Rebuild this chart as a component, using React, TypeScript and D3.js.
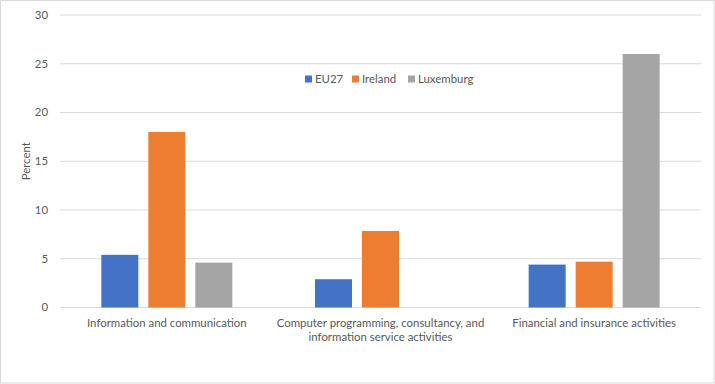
import React from "react";
import * as d3 from "d3";

const categories = [
  ["Information and communication"],
  ["Computer programming, consultancy, and", "information service activities"],
  ["Financial and insurance activities"],
];
const categoryKeys = ["info", "computer", "financial"];
const seriesNames = ["EU27", "Ireland", "Luxemburg"];
const eu27 = [5.4, 2.9, 4.4];
const ireland = [18.0, 7.85, 4.7];
const luxemburg = [4.6, null, 26.0];
const yTicks = [0, 5, 10, 15, 20, 25, 30];
const colors = ["#4472C4", "#ED7D31", "#A5A5A5"];

const W = 715;
const H = 384;
const FONT = "Lato, 'Open Sans', sans-serif";
const FS = 11.4;

export default function App() {
  const left = 60;
  const right = 701;
  const top = 15;
  const bottom = 307.5;
  const y = d3.scaleLinear().domain([0, 30]).range([bottom, top]);
  const x0 = d3.scaleBand<string>().domain(categoryKeys).range([left, right]).padding(0);
  const bw0 = x0.bandwidth();
  const groupW = 131;
  const x1 = d3
    .scaleBand<string>()
    .domain(seriesNames)
    .range([(bw0 - groupW) / 2, (bw0 + groupW) / 2])
    .paddingInner(0.2128)
    .paddingOuter(0);
  const seriesValues = [eu27, ireland, luxemburg];

  const legendItems = [
    { name: "EU27", x: 305 },
    { name: "Ireland", x: 352 },
    { name: "Luxemburg", x: 408 },
  ];

  return (
    <svg
      width={W}
      height={H}
      style={{ position: "absolute", left: 0, top: 0, background: "#fff" }}
      fontFamily={FONT}
    >
      <rect x={0.5} y={0.5} width={W - 1.5} height={H - 1.5} fill="#fff" stroke="#D9D9D9" />
      {yTicks.map((t) => (
        <g key={t}>
          <line x1={left} x2={right} y1={y(t)} y2={y(t)} stroke="#D9D9D9" strokeWidth={1} />
          <text x={48} y={y(t)} dy="0.35em" textAnchor="end" fontSize={FS} fill="#595959">
            {t}
          </text>
        </g>
      ))}
      {categoryKeys.map((c, ci) => (
        <g key={c} transform={`translate(${x0(c)},0)`}>
          {seriesNames.map((s, si) => {
            const v = seriesValues[si][ci];
            if (v == null) return null;
            return (
              <rect
                key={s}
                x={x1(s)}
                y={y(v)}
                width={x1.bandwidth()}
                height={y(0) - y(v)}
                fill={colors[si]}
              />
            );
          })}
          {categories[ci].map((line, li) => (
            <text
              key={li}
              x={bw0 / 2}
              y={323 + li * 14.5}
              dy="0.35em"
              textAnchor="middle"
              fontSize={FS}
              fill="#595959"
            >
              {line}
            </text>
          ))}
        </g>
      ))}
      <text
        transform={`translate(26,${(top + bottom) / 2}) rotate(-90)`}
        textAnchor="middle"
        dy="0.35em"
        fontSize={FS}
        fill="#595959"
      >
        Percent
      </text>
      {legendItems.map((it, i) => (
        <g key={it.name}>
          <rect x={it.x} y={75.5} width={7} height={7} fill={colors[i]} />
          <text x={it.x + 10} y={79} dy="0.35em" fontSize={FS} fill="#595959">
            {it.name}
          </text>
        </g>
      ))}
    </svg>
  );
}
